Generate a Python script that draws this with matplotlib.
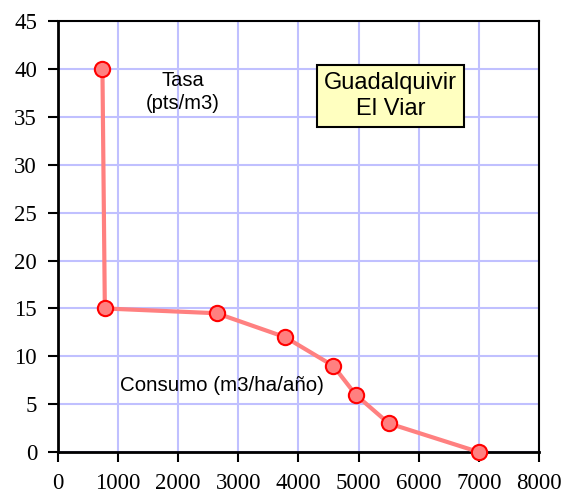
import matplotlib
matplotlib.use("Agg")
import matplotlib.pyplot as plt

# consumo (m3/ha/año) frente a tasa (pts/m3)
consumo = [740, 780, 2640, 3780, 4580, 4950, 5500, 7000]
tasa = [40, 15, 14.5, 12, 9, 6, 3, 0]

x_ticks = [0, 1000, 2000, 3000, 4000, 5000, 6000, 7000, 8000]
y_ticks = [0, 5, 10, 15, 20, 25, 30, 35, 40, 45]

fig = plt.figure(figsize=(5.68, 4.93), dpi=100)
ax = fig.add_axes([0.102, 0.083, 0.847, 0.874])

ax.plot(consumo, tasa, color="#ff8080", lw=3, marker="o", ms=11,
        mfc="#ff8080", mec="#ff0000", mew=1.5, zorder=3, clip_on=False)

ax.set_xlim(0, 8000)
ax.set_ylim(0, 45)
ax.set_xticks(x_ticks)
ax.set_yticks(y_ticks)
ax.set_xticklabels([str(v) for v in x_ticks], family="Liberation Serif", fontsize=16.5)
ax.set_yticklabels([str(v) for v in y_ticks], family="Liberation Serif", fontsize=16.5)
ax.grid(True, color="#c0c0ff", lw=1.5)
ax.set_axisbelow(True)

ax.tick_params(axis="x", length=7, width=1.5, pad=8, direction="out")
ax.tick_params(axis="y", length=7, width=1.5, pad=8, direction="out")
ax.tick_params(top=False, right=False)

for side in ["left", "bottom"]:
    ax.spines[side].set_linewidth(2)
for side in ["top", "right"]:
    ax.spines[side].set_linewidth(1.5)

ax.text(2080, 37.6, "Tasa\n(pts/m3)", ha="center", va="center",
        family="Liberation Sans", fontsize=14.5, linespacing=1.25)
ax.text(1030, 7.0, "Consumo (m3/ha/año)", ha="left", va="center",
        family="Liberation Sans", fontsize=14.8)
ax.text(5530, 37.2, "Guadalquivir\nEl Viar", ha="center", va="center",
        family="Liberation Sans", fontsize=17, linespacing=1.2,
        bbox=dict(boxstyle="square,pad=0.3", fc="#ffffc0", ec="black", lw=1.5))

fig.savefig("out.png", dpi=100)
